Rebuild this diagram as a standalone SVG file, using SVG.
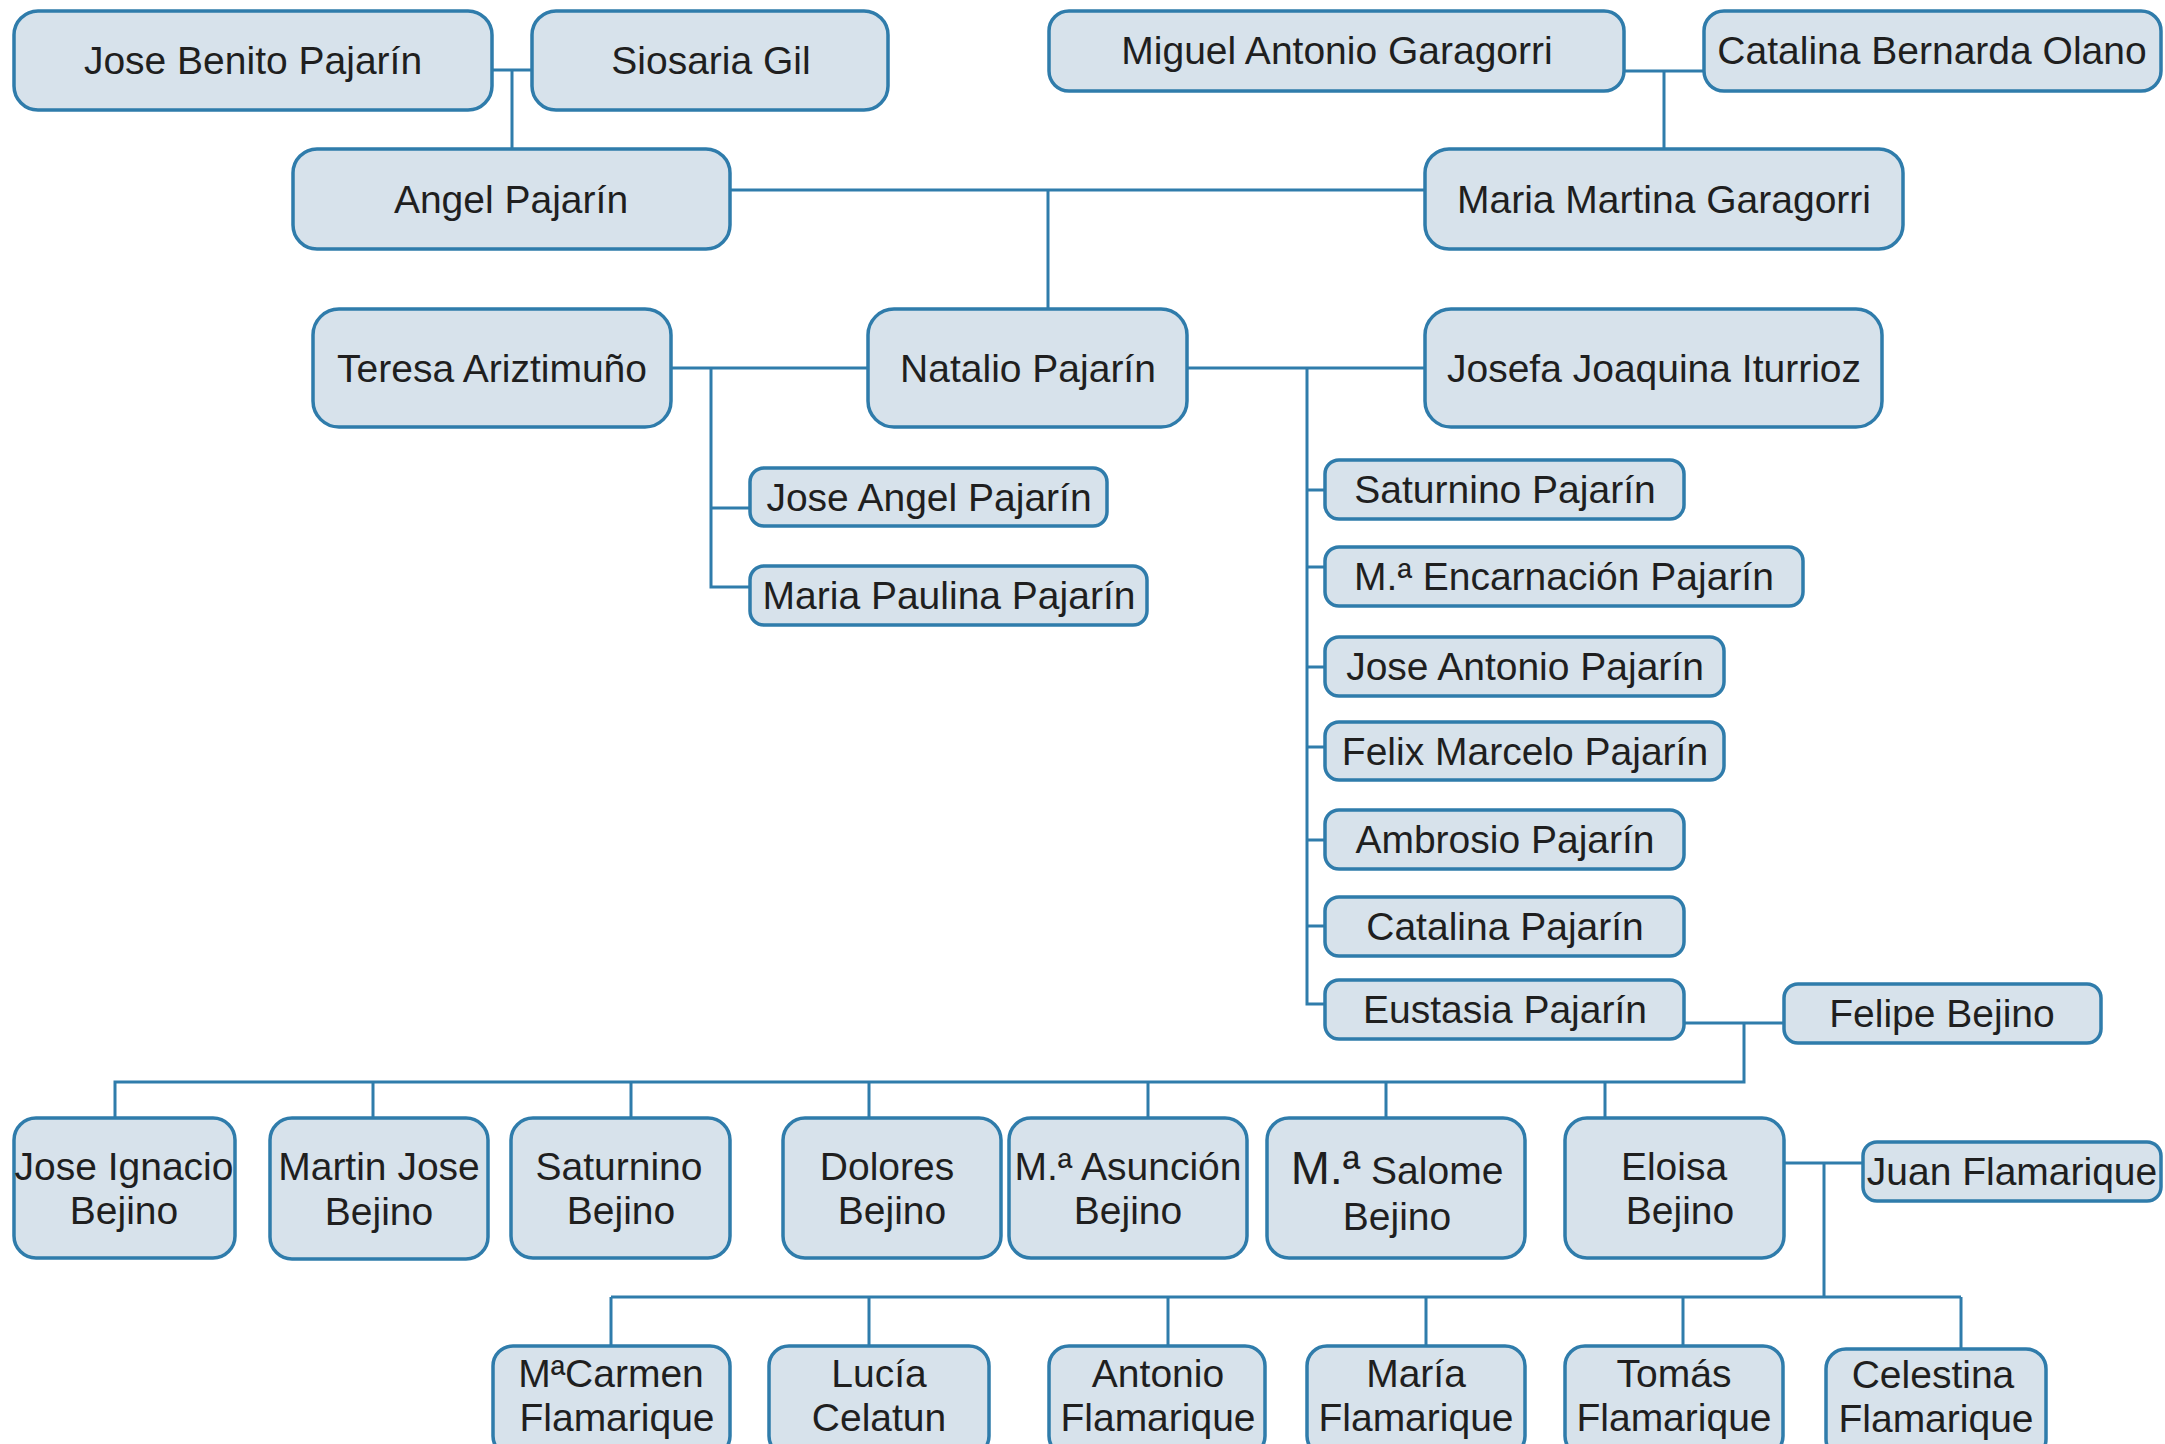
<svg xmlns="http://www.w3.org/2000/svg" width="2165" height="1444" viewBox="0 0 2165 1444">
<style>
.b{fill:#d7e2eb;stroke:#2f7cab;stroke-width:3.5}
.t{font-family:"Liberation Sans",Arial,sans-serif;font-size:39px;fill:#1f1f1f;text-anchor:middle}
.c{fill:none;stroke:#2f7cab;stroke-width:3}
</style>
<rect width="2165" height="1444" fill="#ffffff"/>
<g id="connectors">
<path class="c" d="M492 70H532M512 70V149"/>
<path class="c" d="M1624 71H1704M1664 71V149"/>
<path class="c" d="M730 190H1425M1048 190V309"/>
<path class="c" d="M671 368H868M711 368V587H750M711 508H750"/>
<path class="c" d="M1187 368H1425M1307 368V1004H1325M1307 490H1325M1307 567H1325M1307 667H1325M1307 747H1325M1307 840H1325M1307 926H1325"/>
<path class="c" d="M1684 1023H1784M1744 1023V1082H115V1118M373 1082V1118M631 1082V1118M869 1082V1118M1148 1082V1118M1386 1082V1118M1605 1082V1118"/>
<path class="c" d="M1784 1163H1863M1824 1163V1297M611 1297H1961M611 1297V1346M869 1297V1346M1168 1297V1346M1426 1297V1346M1683 1297V1346M1961 1297V1349"/>
</g>
<g id="n1"><rect class="b" x="14" y="11" width="478" height="99" rx="24"/><text class="t" x="253" y="74">Jose Benito Pajarín</text></g>
<g id="n2"><rect class="b" x="532" y="11" width="356" height="99" rx="24"/><text class="t" x="711" y="74">Siosaria Gil</text></g>
<g id="n3"><rect class="b" x="1049" y="11" width="575" height="80" rx="20"/><text class="t" x="1337" y="64">Miguel Antonio Garagorri</text></g>
<g id="n4"><rect class="b" x="1704" y="11" width="457" height="80" rx="20"/><text class="t" x="1932" y="64">Catalina Bernarda Olano</text></g>
<g id="n5"><rect class="b" x="293" y="149" width="437" height="100" rx="24"/><text class="t" x="511" y="213">Angel Pajarín</text></g>
<g id="n6"><rect class="b" x="1425" y="149" width="478" height="100" rx="24"/><text class="t" x="1664" y="213">Maria Martina Garagorri</text></g>
<g id="n7"><rect class="b" x="313" y="309" width="358" height="118" rx="26"/><text class="t" x="492" y="382">Teresa Ariztimuño</text></g>
<g id="n8"><rect class="b" x="868" y="309" width="319" height="118" rx="26"/><text class="t" x="1028" y="382">Natalio Pajarín</text></g>
<g id="n9"><rect class="b" x="1425" y="309" width="457" height="118" rx="26"/><text class="t" x="1654" y="382">Josefa Joaquina Iturrioz</text></g>
<g id="n10"><rect class="b" x="750" y="468" width="357" height="58" rx="14"/><text class="t" x="929" y="511">Jose Angel Pajarín</text></g>
<g id="n11"><rect class="b" x="750" y="566" width="397" height="59" rx="14"/><text class="t" x="949" y="609">Maria Paulina Pajarín</text></g>
<g id="n12"><rect class="b" x="1325" y="460" width="359" height="59" rx="14"/><text class="t" x="1505" y="503">Saturnino Pajarín</text></g>
<g id="n13"><rect class="b" x="1325" y="547" width="478" height="59" rx="14"/><text class="t" x="1564" y="590">M.ª Encarnación Pajarín</text></g>
<g id="n14"><rect class="b" x="1325" y="637" width="399" height="59" rx="14"/><text class="t" x="1525" y="680">Jose Antonio Pajarín</text></g>
<g id="n15"><rect class="b" x="1325" y="722" width="399" height="58" rx="14"/><text class="t" x="1525" y="765">Felix Marcelo Pajarín</text></g>
<g id="n16"><rect class="b" x="1325" y="810" width="359" height="59" rx="14"/><text class="t" x="1505" y="853">Ambrosio Pajarín</text></g>
<g id="n17"><rect class="b" x="1325" y="897" width="359" height="59" rx="14"/><text class="t" x="1505" y="940">Catalina Pajarín</text></g>
<g id="n18"><rect class="b" x="1325" y="980" width="359" height="59" rx="14"/><text class="t" x="1505" y="1023">Eustasia Pajarín</text></g>
<g id="n19"><rect class="b" x="1784" y="984" width="317" height="59" rx="14"/><text class="t" x="1942" y="1027">Felipe Bejino</text></g>
<g id="n20"><rect class="b" x="14" y="1118" width="221" height="140" rx="22"/><text class="t" x="124" y="1180">Jose Ignacio</text><text class="t" x="124" y="1224">Bejino</text></g>
<g id="n21"><rect class="b" x="270" y="1118" width="218" height="141" rx="22"/><text class="t" x="379" y="1180">Martin Jose</text><text class="t" x="379" y="1225">Bejino</text></g>
<g id="n22"><rect class="b" x="511" y="1118" width="219" height="140" rx="22"/><text class="t" x="619" y="1180">Saturnino</text><text class="t" x="621" y="1224">Bejino</text></g>
<g id="n23"><rect class="b" x="783" y="1118" width="218" height="140" rx="22"/><text class="t" x="887" y="1180">Dolores</text><text class="t" x="892" y="1224">Bejino</text></g>
<g id="n24"><rect class="b" x="1009" y="1118" width="238" height="140" rx="22"/><text class="t" x="1128" y="1180">M.ª Asunción</text><text class="t" x="1128" y="1224">Bejino</text></g>
<g id="n25"><rect class="b" x="1267" y="1118" width="258" height="140" rx="22"/><text class="t" x="1397" y="1184"><tspan font-size="47">M.ª</tspan> Salome</text><text class="t" x="1397" y="1230">Bejino</text></g>
<g id="n26"><rect class="b" x="1565" y="1118" width="219" height="140" rx="22"/><text class="t" x="1674" y="1180">Eloisa</text><text class="t" x="1680" y="1224">Bejino</text></g>
<g id="n27"><rect class="b" x="1863" y="1142" width="298" height="59" rx="14"/><text class="t" x="2012" y="1185">Juan Flamarique</text></g>
<g id="n28"><rect class="b" x="493" y="1346" width="237" height="110" rx="20"/><text class="t" x="611" y="1387">MªCarmen</text><text class="t" x="617" y="1431">Flamarique</text></g>
<g id="n29"><rect class="b" x="769" y="1346" width="220" height="110" rx="20"/><text class="t" x="879" y="1387">Lucía</text><text class="t" x="879" y="1431">Celatun</text></g>
<g id="n30"><rect class="b" x="1049" y="1346" width="216" height="110" rx="20"/><text class="t" x="1158" y="1387">Antonio</text><text class="t" x="1158" y="1431">Flamarique</text></g>
<g id="n31"><rect class="b" x="1307" y="1346" width="218" height="110" rx="20"/><text class="t" x="1416" y="1387">María</text><text class="t" x="1416" y="1431">Flamarique</text></g>
<g id="n32"><rect class="b" x="1565" y="1346" width="218" height="110" rx="20"/><text class="t" x="1674" y="1387">Tomás</text><text class="t" x="1674" y="1431">Flamarique</text></g>
<g id="n33"><rect class="b" x="1826" y="1349" width="220" height="110" rx="20"/><text class="t" x="1933" y="1388">Celestina</text><text class="t" x="1936" y="1432">Flamarique</text></g>
</svg>
